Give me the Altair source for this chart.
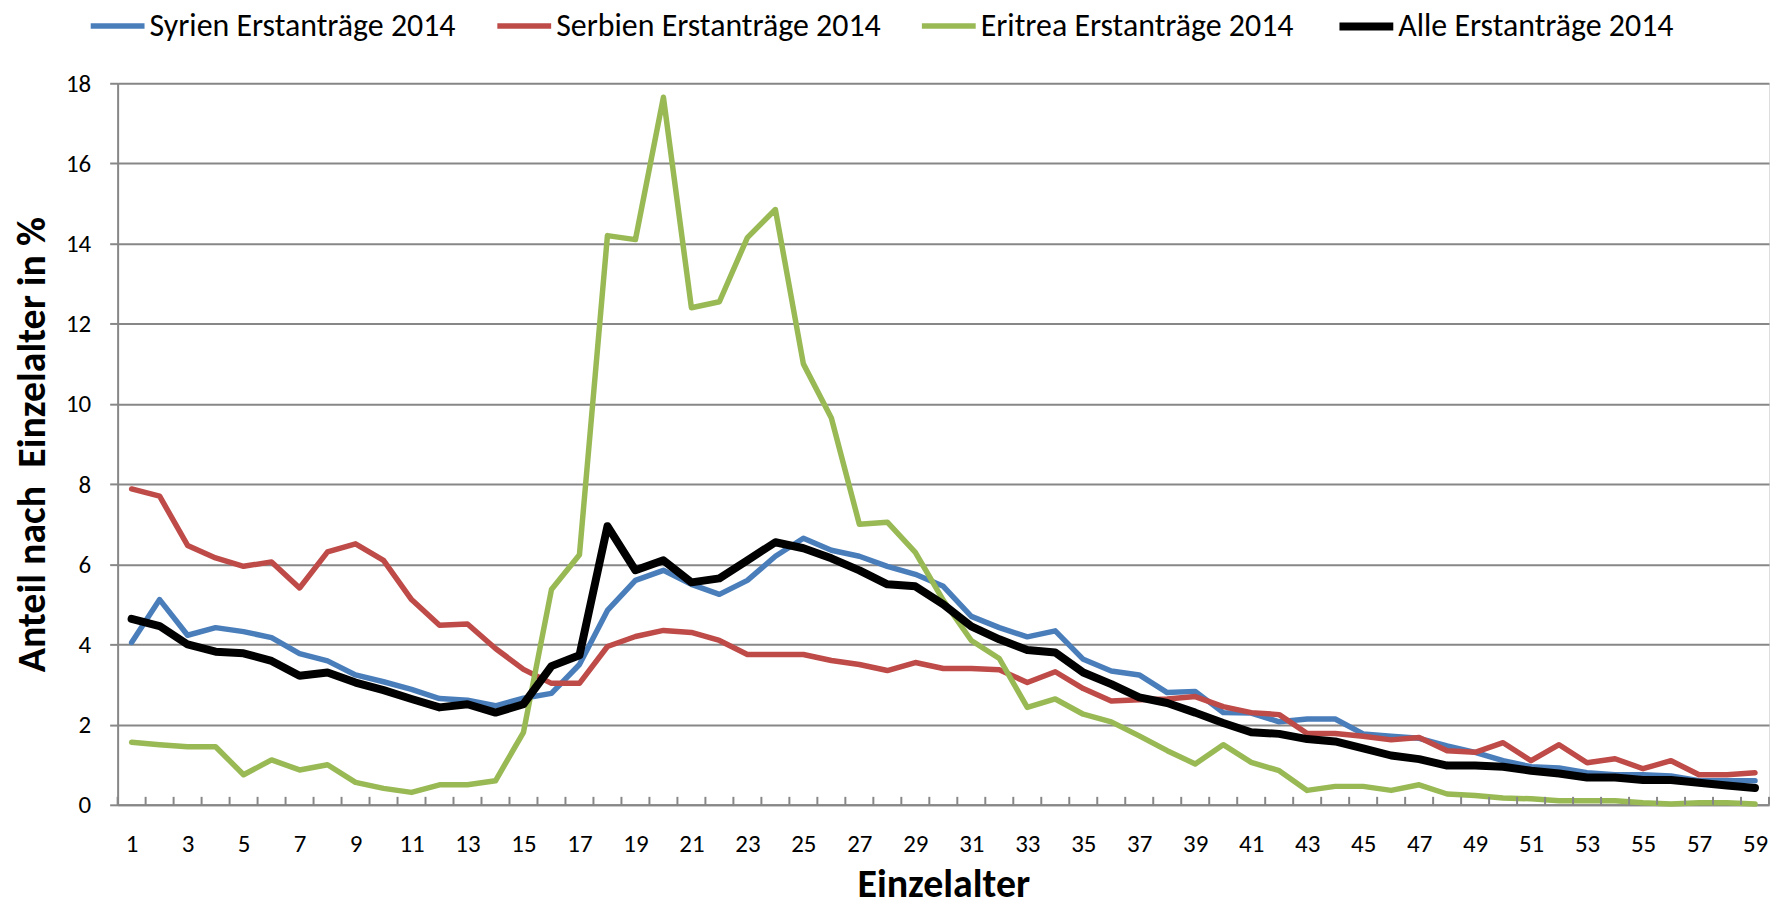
import altair as alt
import pandas as pd

ages = list(range(1, 60))

syrien = [4.05, 5.12, 4.23, 4.42, 4.32, 4.17, 3.77, 3.59, 3.24, 3.07,
          2.88, 2.65, 2.61, 2.47, 2.66, 2.78, 3.5, 4.85, 5.6, 5.85,
          5.5, 5.25, 5.6, 6.2, 6.65, 6.35, 6.2, 5.95, 5.75, 5.45,
          4.7, 4.42, 4.19, 4.34, 3.63, 3.34, 3.24, 2.8, 2.83, 2.3,
          2.29, 2.07, 2.14, 2.14, 1.77, 1.71, 1.66, 1.47, 1.31, 1.1,
          0.95, 0.92, 0.8, 0.75, 0.75, 0.72, 0.6, 0.6, 0.6]

serbien = [7.88, 7.7, 6.47, 6.16, 5.95, 6.06, 5.41, 6.31, 6.51, 6.1,
           5.12, 4.48, 4.51, 3.9, 3.38, 3.03, 3.03, 3.95, 4.2, 4.35,
           4.3, 4.1, 3.75, 3.75, 3.75, 3.6, 3.5, 3.35, 3.55, 3.4,
           3.4, 3.37, 3.05, 3.32, 2.9, 2.59, 2.62, 2.64, 2.7, 2.45,
           2.3, 2.25, 1.78, 1.78, 1.71, 1.62, 1.68, 1.35, 1.31, 1.55,
           1.1, 1.5, 1.05, 1.15, 0.9, 1.1, 0.75, 0.75, 0.8]

eritrea = [1.56, 1.5, 1.45, 1.45, 0.75, 1.12, 0.87, 1.0, 0.56, 0.41,
           0.31, 0.5, 0.5, 0.6, 1.81, 5.37, 6.24, 14.2, 14.1, 17.65,
           12.4, 12.55, 14.15, 14.85, 11.0, 9.65, 7.0, 7.05, 6.3, 5.1,
           4.1, 3.65, 2.43, 2.64, 2.26, 2.07, 1.72, 1.35, 1.02, 1.5,
           1.06, 0.85, 0.36, 0.46, 0.46, 0.36, 0.5, 0.27, 0.23, 0.17,
           0.15, 0.1, 0.1, 0.1, 0.05, 0.02, 0.05, 0.05, 0.02]

alle = [4.64, 4.46, 4.0, 3.82, 3.78, 3.59, 3.22, 3.3, 3.05, 2.86,
        2.64, 2.43, 2.51, 2.3, 2.51, 3.46, 3.73, 6.95, 5.85, 6.1,
        5.55, 5.65, 6.1, 6.55, 6.4, 6.15, 5.85, 5.5, 5.45, 5.0,
        4.45, 4.13, 3.86, 3.8, 3.3, 3.01, 2.68, 2.54, 2.3, 2.04,
        1.81, 1.77, 1.64, 1.58, 1.41, 1.23, 1.14, 0.98, 0.98, 0.95,
        0.85, 0.78, 0.68, 0.68, 0.62, 0.62, 0.55, 0.48, 0.42]

series_names = ["Syrien Erstanträge 2014", "Serbien Erstanträge 2014",
                "Eritrea Erstanträge 2014", "Alle Erstanträge 2014"]
series_colors = ["#4A7EBB", "#BE4B48", "#98B954", "#000000"]
series_widths = [5.5, 5.5, 5.5, 8]
x_label_values = list(range(1, 60, 2))
y_tick_values = list(range(0, 19, 2))

rows = []
for name, vals in zip(series_names, [syrien, serbien, eritrea, alle]):
    for a, v in zip(ages, vals):
        rows.append({"age": a, "value": v, "series": name})
df = pd.DataFrame(rows)

bounds = pd.DataFrame({"b": [a - 0.5 for a in ages] + [ages[-1] + 0.5]})

FONT = "Carlito, Lato, sans-serif"
GRID = "#878787"
W, H = 1657, 724

xscale = alt.Scale(domain=[0.5, 59.5], nice=False, zero=False)
yscale = alt.Scale(domain=[0, 18], nice=False)

legend = alt.Legend(
    title=None, orient="none", direction="horizontal", columns=4,
    legendX=-31, legendY=-88, symbolType="stroke", symbolSize=2916,
    labelFont=FONT, labelFontSize=32, labelColor="#000000", labelLimit=0,
    labelOffset=1, columnPadding=30, padding=0, symbolOpacity=1,
)
color = alt.Color(
    "series:N",
    scale=alt.Scale(domain=series_names, range=series_colors),
    legend=legend,
)
swidth = alt.StrokeWidth(
    "series:N",
    scale=alt.Scale(type="ordinal", domain=series_names, range=series_widths),
    legend=legend,
)

x_axis = alt.Axis(
    values=x_label_values, format="d", ticks=False, tickSize=0, grid=False,
    domainColor=GRID, domainWidth=2, labelFont=FONT, labelFontSize=25,
    labelColor="#000000", labelPadding=27, labelFlush=False,
    title="Einzelalter", titleFont=FONT, titleFontSize=40,
    titleFontWeight="bold", titleColor="#000000", titleX=W / 2,
    titleY=92, titleBaseline="alphabetic", titleAlign="center",
)
x_enc = alt.X("age:Q", scale=xscale, axis=x_axis)
y_enc = alt.Y(
    "value:Q", scale=yscale,
    axis=alt.Axis(
        values=y_tick_values, grid=True, gridColor=GRID, gridWidth=2,
        domainColor=GRID, domainWidth=2, tickColor=GRID, tickWidth=2,
        tickSize=8, labelFont=FONT, labelFontSize=25, labelColor="#000000",
        labelPadding=19,
        title="Anteil nach\u00a0 Einzelalter in %", titleFont=FONT,
        titleFontSize=40, titleFontWeight="bold", titleColor="#000000",
        titleAngle=270, titleX=-73, titleY=H / 2,
        titleBaseline="alphabetic", titleAlign="center",
    ),
)

layers = []
for name in series_names:
    layers.append(
        alt.Chart(df).transform_filter(alt.datum.series == name)
        .mark_line(strokeCap="round", strokeJoin="round")
        .encode(x=x_enc, y=y_enc, color=color, strokeWidth=swidth)
    )

ticks = alt.Chart(bounds).mark_rule(color=GRID, strokeWidth=2).encode(
    x=alt.X("b:Q", scale=xscale, axis=x_axis),
    y=alt.value(H - 8),
    y2=alt.value(H),
)
layers.append(ticks)

chart = alt.layer(*layers).properties(
    width=W, height=H,
    autosize=alt.AutoSizeParams(type="none"),
    padding={"left": 110, "top": 74, "right": 2, "bottom": 100},
).configure_view(stroke=None).configure(background="white")

chart.save("out.html", embed_options={"renderer": "svg", "actions": False})
